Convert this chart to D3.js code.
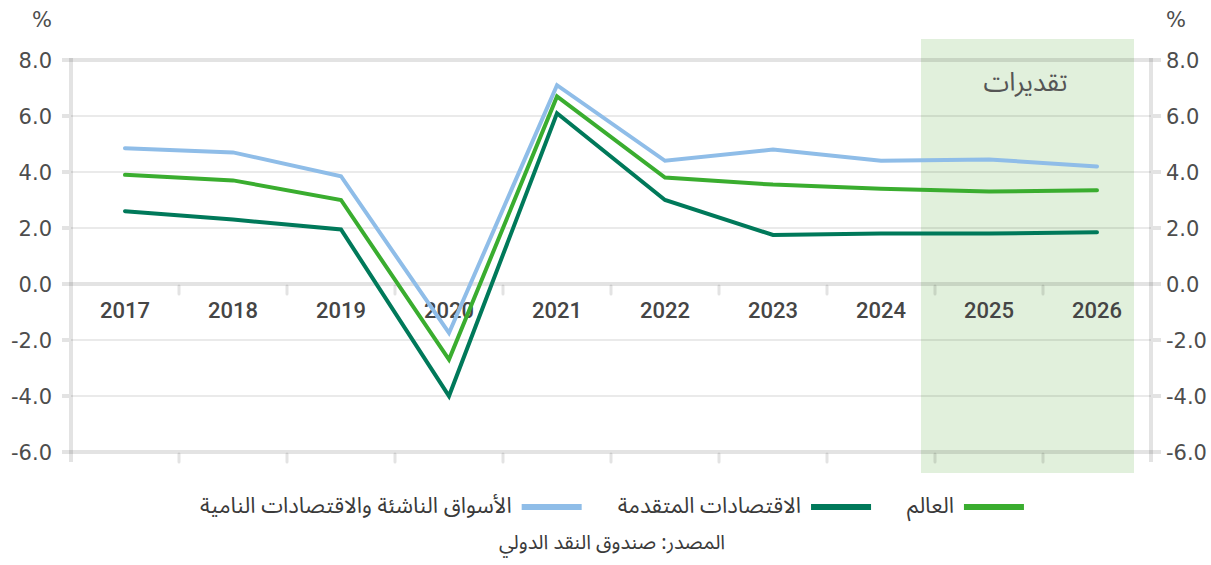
<!DOCTYPE html>
<html><head><meta charset="utf-8">
<script src="https://cdn.jsdelivr.net/npm/d3@7"></script>
<style>
html,body{margin:0;padding:0;background:#fff;}
svg{display:block;}
.ar{font-family:"Noto Sans Arabic","Noto Sans","DejaVu Sans",sans-serif;}
</style></head>
<body>
<svg id="chart" width="1211" height="565"></svg>
<script>
const years = ["2017","2018","2019","2020","2021","2022","2023","2024","2025","2026"];
const world = [3.9, 3.7, 3.0, -2.7, 6.7, 3.8, 3.55, 3.4, 3.3, 3.35];
const advanced = [2.6, 2.3, 1.95, -4.0, 6.1, 3.0, 1.75, 1.8, 1.8, 1.85];
const emerging = [4.85, 4.7, 3.85, -1.75, 7.1, 4.4, 4.8, 4.4, 4.45, 4.2];
const yTicks = [8, 6, 4, 2, 0, -2, -4, -6];
const estimateYears = ["2025","2026"];
const seriesNames = ["العالم", "الاقتصادات المتقدمة", "الأسواق الناشئة والاقتصادات النامية"];
const seriesColors = ["#3aad2f", "#00795a", "#8fbde8"];
const unitLabel = "%";
const estimateLabel = "تقديرات";
const sourceText = "المصدر: صندوق النقد الدولي";

const svg = d3.select("#chart");
const L = 71, R = 1151, T = 60, B = 452;
const x = d3.scaleBand().domain(years).range([L, R]).padding(0);
const y = d3.scaleLinear().domain([-6, 8]).range([B, T]);
const cx = d => x(d) + x.bandwidth() / 2;

// estimate shading
const s0 = x(estimateYears[0]) - 14, s1 = x(estimateYears[estimateYears.length-1]) + x.bandwidth() - 17;
svg.append("rect").attr("x", s0).attr("y", 39).attr("width", s1 - s0).attr("height", 434)
  .attr("fill", "#e1f0dc");
svg.append("text").attr("class","ar").attr("x", (s0 + s1) / 2 - 2).attr("y", 91)
  .attr("text-anchor","middle").attr("font-size", 26).attr("fill","#555").text(estimateLabel);

const grid = "rgba(0,0,0,0.11)";
// gridlines
yTicks.forEach(v => {
  const heavy = (v === 8 || v === 0 || v === -6);
  svg.append("line").attr("x1", heavy ? L - 9 : L).attr("x2", heavy ? R + 10 : R)
    .attr("y1", y(v)).attr("y2", y(v))
    .attr("stroke", grid).attr("stroke-width", heavy ? 4 : 1.5);
  if (!heavy) {
    svg.append("line").attr("x1", L - 9).attr("x2", L - 2).attr("y1", y(v)).attr("y2", y(v))
      .attr("stroke", grid).attr("stroke-width", 4);
    svg.append("line").attr("x1", R + 2).attr("x2", R + 10).attr("y1", y(v)).attr("y2", y(v))
      .attr("stroke", grid).attr("stroke-width", 4);
  }
});
// vertical axes
[L, R].forEach(xx => {
  svg.append("line").attr("x1", xx).attr("x2", xx).attr("y1", T - 2).attr("y2", B + 10)
    .attr("stroke", grid).attr("stroke-width", 4);
});
// category ticks on zero line and bottom line
years.slice(1).forEach(yr => {
  [y(0), y(-6)].forEach(yy => {
    svg.append("line").attr("x1", x(yr)).attr("x2", x(yr)).attr("y1", yy + 2).attr("y2", yy + 10)
      .attr("stroke", grid).attr("stroke-width", 3).attr("stroke-linecap","round");
  });
});

// axes labels
const fmt = v => d3.format(".1f")(v).replace("\u2212", "-");
const tickFont = "'DejaVu Sans', sans-serif";
yTicks.forEach(v => {
  svg.append("text").attr("x", 52).attr("y", y(v)).attr("dy","0.36em").attr("text-anchor","end")
    .attr("font-family", tickFont).attr("font-size", 21).attr("fill","#4d4d4d").text(fmt(v));
  svg.append("text").attr("x", 1166).attr("y", y(v)).attr("dy","0.36em").attr("text-anchor","start")
    .attr("font-family", tickFont).attr("font-size", 21).attr("fill","#4d4d4d").text(fmt(v));
});
svg.append("text").attr("x", 52).attr("y", 27).attr("text-anchor","end")
  .attr("font-family", tickFont).attr("font-size", 21).attr("fill","#4d4d4d").text(unitLabel);
svg.append("text").attr("x", 1166).attr("y", 27).attr("text-anchor","start")
  .attr("font-family", tickFont).attr("font-size", 21).attr("fill","#4d4d4d").text(unitLabel);

// year labels
years.forEach(yr => {
  svg.append("text").attr("x", cx(yr)).attr("y", 318).attr("text-anchor","middle")
    .attr("font-family","Roboto, sans-serif").attr("font-weight", 500).attr("font-size", 22)
    .attr("fill","#454545").text(yr);
});

// lines
const line = d3.line().x((d, i) => cx(years[i])).y(d => y(d));
[emerging, world, advanced].forEach((s, k) => {
  const color = [seriesColors[2], seriesColors[0], seriesColors[1]][k];
  svg.append("path").attr("d", line(s)).attr("fill","none").attr("stroke", color)
    .attr("stroke-width", 4).attr("stroke-linejoin","miter").attr("stroke-linecap","round");
});

// legend (RTL: swatch then label, right to left)
const lg = svg.append("g");
let cur = 0;
const swW = 60, gap1 = 10, gap2 = 36;
seriesNames.forEach((n, i) => {
  lg.append("rect").attr("x", cur - swW).attr("y", 504).attr("width", swW).attr("height", 6)
    .attr("fill", seriesColors[i]);
  cur -= swW + gap1;
  const t = lg.append("text").attr("class","ar").attr("x", cur).attr("y", 513)
    .attr("text-anchor","start").attr("direction","rtl").attr("font-size", 22).attr("fill","#3a3a3a").text(n);
  const w = t.node().getComputedTextLength();
  cur -= w + gap2;
});
const totalW = -(cur + gap2);
lg.attr("transform", `translate(${612 + totalW/2},0)`);

svg.append("text").attr("class","ar").attr("x", 612).attr("y", 549).attr("text-anchor","middle")
  .attr("font-size", 20).attr("fill","#3a3a3a").text(sourceText);
</script>
</body></html>
